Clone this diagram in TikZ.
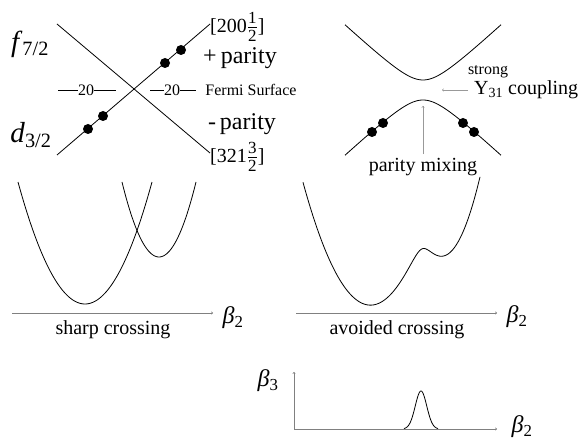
\documentclass[tikz,border=0pt]{standalone}
\usepackage{fontspec}
\setmainfont{Liberation Serif}
\usetikzlibrary{arrows.meta}
\newcommand{\bsub}[2]{\textit{#1}\textsubscript{#2}}
\newcommand{\fracdigit}{\fontsize{17}{17}\selectfont}
\newcommand{\halfrac}[2]{\ensuremath{\textstyle\frac{\mbox{\fracdigit\raisebox{0pt}[\height][3pt]{#1}}}{\mbox{\fracdigit\raisebox{0pt}[\dimexpr\height+3pt\relax][0pt]{#2}}}}}
\newcommand{\fdash}[1]{\rule[0.3em]{#1}{0.5pt}}
\begin{document}
\begin{tikzpicture}[
  x=1pt, y=-1pt,
  every node/.style={inner sep=0pt},
  dot/.style={circle, fill=black, minimum size=10pt},
  lbl/.style={font=\fontsize{20}{24}\selectfont},
  biglbl/.style={font=\fontsize{24}{28}\selectfont},
  orb/.style={font=\fontsize{29}{33}\selectfont},
  smalllbl/.style={font=\fontsize{16}{19}\selectfont},
  level/.style={line width=0.8pt},
  axis/.style={gray, line width=0.6pt, -{To[length=2pt,width=3pt]}},
  pointer/.style={gray!80, line width=0.5pt, -{To[length=2pt,width=3pt]}},
  declare function={
    ea(\x)=(0.1649*(\x-370))^2;
    eb(\x)=52+(0.2373*(\x-443))^2;
    elow(\x)=(ea(\x)+eb(\x))/2-100*sqrt(((ea(\x)-eb(\x))/200)^2+0.04);
  }
]
  \useasboundingbox (0,0) rectangle (584,446);

  % sharp crossing of the two levels
  \coordinate (fa) at (57,24);
  \coordinate (fb) at (210,153);
  \coordinate (da) at (57,155);
  \coordinate (db) at (210,24);
  \draw[level] (fa) -- (fb);
  \draw[level] (da) -- (db);
  \node[dot] (d1) at (88,129) {};
  \node[dot] (d2) at (103,116) {};
  \node[dot] (d3) at (165,63) {};
  \node[dot] (d4) at (181,50) {};

  \node[orb] (f72) at (30,44) {\bsub{f}{7/2}};
  \node[orb] (d32) at (31,135) {\bsub{d}{3/2}};
  \node[lbl, anchor=west] (n200) at (210,27) {[200\halfrac{1}{2}]};
  \node[lbl, anchor=west] (n321) at (210,157) {[321\halfrac{3}{2}]};
  \node[biglbl] (pplus) at (240,58) {+\,parity};
  \node[biglbl] (pminus) at (242,124) {-\,parity};
  \node[smalllbl] (fs1) at (87,90) {\fdash{20pt}20\fdash{22pt}};
  \node[smalllbl] (fs2) at (173,90) {\fdash{14pt}20\fdash{16pt}};
  \node[smalllbl] (fermi) at (251,90) {Fermi Surface};

  % avoided crossing of the two levels
  \draw[level, domain=345:501, samples=80, smooth]
    plot (\x, {100-sqrt(400+0.8649*(\x-423)^2)});
  \draw[level, domain=345:501, samples=80, smooth]
    plot (\x, {80+sqrt(400+0.8649*(\x-423)^2)});
  \node[dot] (e1) at (372,132) {};
  \node[dot] (e2) at (383,123) {};
  \node[dot] (e3) at (463,123) {};
  \node[dot] (e4) at (474,132) {};

  \node[smalllbl] (strong) at (488,72) {strong};
  \node[lbl, anchor=west] (y31) at (474,90) {Y\textsubscript{31} coupling};
  \coordinate (gap) at (442,90);
  \draw[pointer] (y31.west) ++(-6,0) coordinate (y31t) (y31t) -- (gap);
  \node[lbl] (mixing) at (423,167) {parity mixing};
  \coordinate (apex) at (423,106);
  \draw[pointer] (mixing.north) ++(0,-4) coordinate (mixt) (mixt) -- (apex);

  % energy surfaces
  \draw[level, domain=18:152, samples=80, smooth]
    plot (\x, {304-0.02718*(\x-85)^2});
  \draw[level, domain=122:196, samples=60, smooth]
    plot (\x, {257-0.0548*(\x-159)^2});
  \coordinate (o1) at (12,313);
  \coordinate (x1) at (213,313);
  \draw[axis] (o1) -- (x1);
  \node[biglbl] (b21) at (233,318) {\bsub{β}{2}};
  \node[lbl] (sharp) at (113,330) {sharp crossing};

  \draw[level, domain=303:480, samples=150, smooth]
    plot (\x, {304-elow(\x)});
  \coordinate (o2) at (296,313);
  \coordinate (x2) at (497,313);
  \draw[axis] (o2) -- (x2);
  \node[biglbl] (b22) at (517,317) {\bsub{β}{2}};
  \node[lbl] (avoided) at (397,330) {avoided crossing};

  % deformation map
  \coordinate (o3) at (294,429);
  \coordinate (y3) at (294,372);
  \coordinate (x3) at (497,429);
  \draw[axis] (o3) -- (y3);
  \draw[axis] (o3) -- (x3);
  \draw[level, domain=404:438, samples=60, smooth]
    plot (\x, {429-38*exp(-((\x-421)^2)/66)});
  \node[biglbl] (b3) at (268,381) {\bsub{β}{3}};
  \node[biglbl] (b23) at (522,427) {\bsub{β}{2}};
\end{tikzpicture}
\end{document}
